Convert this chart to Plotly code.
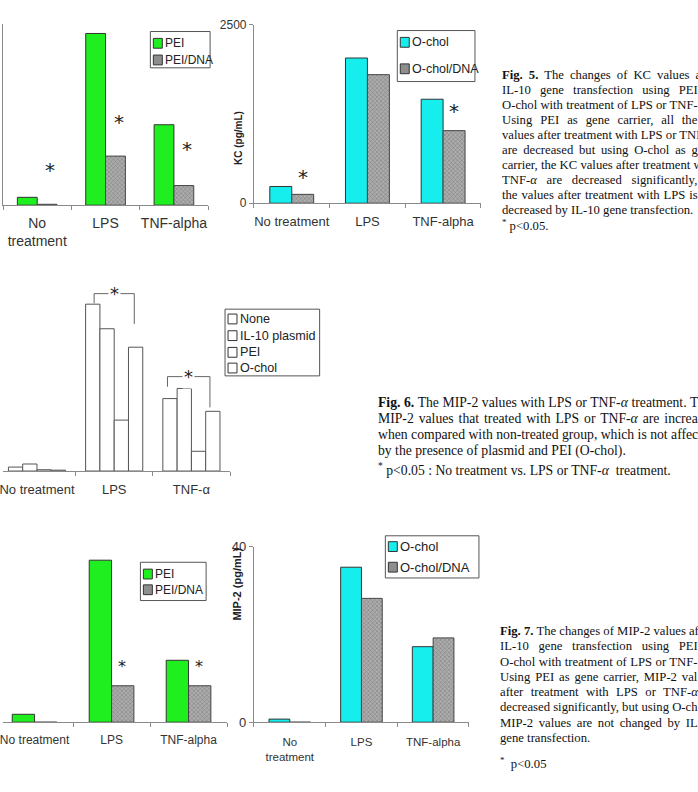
import re
import plotly.graph_objects as go

W, H = 698, 792

# ---------------- data ----------------
cats = ["No treatment", "LPS", "TNF-alpha"]
cats_A = ["No<br>treatment", "LPS", "TNF-alpha"]
cats_E = ["No<br>treatment", "LPS", "TNF-alpha"]
cats_C = ["No treatment", "LPS", "TNF-α"]

# Fig.5 KC (pg/mL)
kc_pei = [108, 2365, 1108]
kc_pei_dna = [12, 676, 270]
kc_ochol = [234, 2033, 1456]
kc_ochol_dna = [124, 1800, 1016]

# Fig.6 MIP-2
mip_none = [0.9, 38.0, 16.5]
mip_il10 = [1.6, 32.4, 18.8]
mip_pei = [0.3, 11.6, 4.5]
mip_ochol = [0.2, 28.2, 13.6]

# Fig.7 MIP-2 (pg/mL)
mip7_pei = [1.8, 36.9, 14.1]
mip7_pei_dna = [0, 8.3, 8.3]
mip7_ochol = [0.7, 35.3, 17.2]
mip7_ochol_dna = [0, 28.2, 19.2]

# significance markers (category, value)
sig_A = [("No<br>treatment", 486), ("LPS", 1149), ("TNF-alpha", 770)]
sig_B = [("No treatment", 371), ("TNF-alpha", 1291)]
sig_D = [("LPS", 12.7), ("TNF-alpha", 12.7)]
# brackets in Fig.6: (left x, right x, top y, left leg y, right leg y)
brackets_C = [(0.74, 1.26, 40.4, 38.2, 33.5), (1.69, 2.24, 21.5, 19.2, 14.5)]

# caption lines as visible on the cropped page: (text, justified)
cap5 = [
    ("<b>Fig.\u00a05.</b> The changes of KC values a", True),
    ("IL-10 gene transfection using PEI", True),
    ("O-chol with treatment of LPS or TNF-", True),
    ("Using PEI as gene carrier, all the", True),
    ("values after treatment with LPS or TNF", True),
    ("are decreased but using O-chol as g", True),
    ("carrier, the KC values after treatment w", True),
    ("TNF-<i>α</i> are decreased significantly,", True),
    ("the values after treatment with LPS is", True),
    ("decreased by IL-10 gene transfection.", False),
    ("<sup>*</sup> p&lt;0.05.", False),
]
cap6 = [
    ("<b>Fig.\u00a06.</b> The MIP-2 values with LPS or TNF-<i>α</i> treatment. T", True),
    ("MIP-2 values that treated with LPS or TNF-<i>α</i> are increa", True),
    ("when compared with non-treated group, which is not affec", True),
    ("by the presence of plasmid and PEI (O-chol).", False),
    ("<sup>*</sup> p&lt;0.05 : No treatment vs. LPS or TNF-<i>α</i>  treatment.", False),
]
cap7 = [
    ("<b>Fig.\u00a07.</b> The changes of MIP-2 values af", True),
    ("IL-10 gene transfection using PEI", True),
    ("O-chol with treatment of LPS or TNF-", True),
    ("Using PEI as gene carrier, MIP-2 val", True),
    ("after treatment with LPS or TNF-<i>α</i>", True),
    ("decreased significantly, but using O-ch", True),
    ("MIP-2 values are not changed by IL", True),
    ("gene transfection.", False),
    ("<sup>*</sup>  p&lt;0.05", False),
]

GREEN = "#1fef1f"
CYAN = "#16eeee"
HATCH = dict(color="#a0a0a0", line=dict(color="#444", width=1),
             pattern=dict(shape="x", fgcolor="#505050", bgcolor="#adadad", size=3, solidity=0.35))


def px(x):
    return x / W


def py(y):
    return 1 - y / H


fig = go.Figure()

BW = 0.29


def add_pair(xa, ya, xcats, v1, v2, color):
    fig.add_trace(go.Bar(x=xcats, y=v1, width=BW, offset=-BW, xaxis=xa, yaxis=ya,
                         marker=dict(color=color, line=dict(color="#333", width=1)), showlegend=False))
    fig.add_trace(go.Bar(x=xcats, y=v2, width=BW, offset=0, xaxis=xa, yaxis=ya,
                         marker=HATCH, showlegend=False))


add_pair("x", "y", cats_A, kc_pei, kc_pei_dna, GREEN)
add_pair("x2", "y2", cats, kc_ochol, kc_ochol_dna, CYAN)
CW = 0.185
for i, v in enumerate([mip_none, mip_il10, mip_pei, mip_ochol]):
    fig.add_trace(go.Bar(x=cats_C, y=v, width=CW, offset=-2 * CW + i * CW, xaxis="x3", yaxis="y3",
                         marker=dict(color="white", line=dict(color="#555", width=1)), showlegend=False))
add_pair("x4", "y4", cats, mip7_pei, mip7_pei_dna, GREEN)
add_pair("x5", "y5", cats_E, mip7_ochol, mip7_ochol_dna, CYAN)


def tf(s):
    return dict(family="Liberation Sans", size=s, color="#333")


AX = dict(showgrid=False, zeroline=False, linecolor="#8a8a8a", linewidth=1,
          tickcolor="#8a8a8a", ticklen=4, tickfont=tf(13), fixedrange=True)
XAX = dict(AX, type="category", ticks="outside", tickson="boundaries", showline=True,
           ticklabelstandoff=6, tickangle=0)

fig.update_layout(
    width=W, height=H, margin=dict(l=0, r=0, t=0, b=0),
    paper_bgcolor="white", plot_bgcolor="white", barmode="overlay", showlegend=False,
    xaxis=dict(XAX, domain=[0, px(206)], range=[-0.5, 2.5], anchor="y", ticklabelstandoff=5, tickfont=tf(14)),
    yaxis=dict(AX, domain=[py(202), py(17)], range=[0, 2500], showline=True, showticklabels=False,
               ticks="", anchor="x"),
    xaxis2=dict(XAX, domain=[px(252), px(480)], range=[-0.5, 2.5], anchor="y2"),
    yaxis2=dict(AX, domain=[py(200), py(18)], range=[0, 2500], showline=True, tickvals=[0, 2500],
                ticks="outside", anchor="x2", tickfont=tf(12)),
    xaxis3=dict(XAX, domain=[0, px(228)], range=[-0.44, 2.5], anchor="y3"),
    yaxis3=dict(AX, domain=[py(473), py(285)], range=[0, 42], showline=False, showticklabels=False,
                ticks="", anchor="x3"),
    xaxis4=dict(XAX, domain=[0, px(225)], range=[-0.41, 2.5], anchor="y4", tickfont=tf(12)),
    yaxis4=dict(AX, domain=[py(729), py(550)], range=[0, 40], showline=False, showticklabels=False,
                ticks="", anchor="x4"),
    xaxis5=dict(XAX, domain=[px(252), px(468)], range=[-0.5, 2.5], anchor="y5", ticklabelstandoff=9,
                tickfont=tf(11.5)),
    yaxis5=dict(AX, domain=[py(729), py(550)], range=[0, 40], showline=True, tickvals=[0, 40],
                ticks="outside", anchor="x5", tickfont=tf(13)),
)

ann = []
shapes = []

# asterisks
for c, v in sig_A:
    ann.append(dict(x=c, y=v, xref="x", yref="y", text="*", showarrow=False, xshift=13,
                    font=dict(family="DejaVu Sans", size=20, color="#222"), yanchor="middle"))
for c, v in sig_B:
    ann.append(dict(x=c, y=v, xref="x2", yref="y2", text="*", showarrow=False, xshift=11,
                    font=dict(family="DejaVu Sans", size=20, color="#222"), yanchor="middle"))
for c, v in sig_D:
    ann.append(dict(x=c, y=v, xref="x4", yref="y4", text="*", showarrow=False, xshift=10,
                    font=dict(family="DejaVu Sans", size=16, color="#222"), yanchor="middle"))
for (l, r, t, yl, yr) in brackets_C:
    shapes.append(dict(type="path", xref="x3", yref="y3",
                       path=f"M {l},{yl} L {l},{t} L {r},{t} L {r},{yr}",
                       line=dict(color="#666", width=1)))
    ann.append(dict(x=(l + r) / 2, y=t, xref="x3", yref="y3", text="*", showarrow=False,
                    font=dict(family="DejaVu Sans", size=18, color="#222"), yanchor="middle", bgcolor="white"))

# y-axis titles
ann.append(dict(x=px(236), y=py(104), xref="paper", yref="paper", text="<b>KC (pg/mL)</b>", textangle=-90,
                showarrow=False, font=dict(family="Liberation Sans", size=10, color="#222")))
ann.append(dict(x=px(235), y=py(627), xref="paper", yref="paper", text="<b>MIP-2 (pg/mL)</b>", textangle=-90,
                showarrow=False, font=dict(family="Liberation Sans", size=11, color="#222")))


# manual legends
def legend(box, items, fs=12):
    x0, y0, x1, y1 = box
    shapes.append(dict(type="rect", xref="paper", yref="paper", x0=px(x0), x1=px(x1), y0=py(y0), y1=py(y1),
                       line=dict(color="#555", width=1), fillcolor="white"))
    for name, fill, yc in items:
        shapes.append(dict(type="rect", xref="paper", yref="paper", x0=px(x0 + 3), x1=px(x0 + 12),
                           y0=py(yc + 5), y1=py(yc - 5), line=dict(color="#333", width=1), fillcolor=fill))
        ann.append(dict(x=px(x0 + 14), y=py(yc), xref="paper", yref="paper", text=name, showarrow=False,
                        xanchor="left", yanchor="middle", align="left", borderpad=0,
                        font=dict(family="Liberation Sans", size=fs, color="#222")))


legend((148, 25, 208, 62), [("PEI", GREEN, 37), ("PEI/DNA", "#8e8e8e", 54)])
legend((396, 24, 474, 76), [("O-chol", CYAN, 36), ("O-chol/DNA", "#8e8e8e", 63)], fs=12.5)
legend((223, 308, 318, 376), [("None", "white", 318), ("IL-10 plasmid", "white", 335),
                              ("PEI", "white", 352), ("O-chol", "white", 368)], fs=12.6)
legend((138, 566, 204, 605), [("PEI", GREEN, 578), ("PEI/DNA", "#8e8e8e", 594)])
legend((384, 539, 478, 582), [("O-chol", CYAN, 550), ("O-chol/DNA", "#8e8e8e", 571)], fs=13)

# Times (Liberation Serif) advance widths, per 1000 em, for justification
TW = {" ": 250, "\u00a0": 250, "(": 333, ")": 333, "*": 500, ",": 250, "-": 333, ".": 250, "/": 278,
      ":": 278, "<": 564, "α": 500}
TW.update({d: 500 for d in "0123456789"})
TW.update(dict(zip("ABCDEFGHIJKLMNOPQRSTUVWXYZ",
                   [722, 667, 667, 722, 611, 556, 722, 722, 333, 389, 722, 611, 889, 722, 722, 556,
                    722, 667, 556, 611, 722, 722, 944, 722, 722, 611])))
TW.update(dict(zip("abcdefghijklmnopqrstuvwxyz",
                   [444, 500, 444, 500, 444, 333, 500, 500, 278, 278, 500, 278, 778, 500, 500, 500,
                    500, 333, 389, 278, 500, 500, 722, 500, 500, 444])))


def plain(t):
    return re.sub(r"<[^>]+>", "", t).replace("&lt;", "<")


def caption(x, y0, dy, lines, size, right=697, last_y=None):
    font = dict(family="Liberation Serif", size=size, color="#111")
    for i, (txt, just) in enumerate(lines):
        yy = y0 + i * dy
        if last_y is not None and i == len(lines) - 1:
            yy = last_y
        text = txt
        if just:
            p = plain(txt)
            nat = sum(TW.get(ch, 500) for ch in p) * size / 1000.0
            gaps = p.count(" ")
            ws = max(0.0, (right - (x + 1) - nat) / gaps)
            text = f'<span style="word-spacing:{ws:.2f}px">{txt}</span>'
        else:
            text = txt.replace("  ", " \u00a0")
        ann.append(dict(x=px(x), y=py(yy), xref="paper", yref="paper", text=text, showarrow=False,
                        xanchor="left", yanchor="middle", align="left", borderpad=0, font=font))


caption(500, 69, 15.3, cap5, 12.7)
caption(376, 403, 16.6, cap6, 13.7, last_y=471)
caption(498, 636, 15.6, cap7, 12.7, last_y=771)

fig.update_layout(annotations=ann, shapes=shapes)
fig.write_html("out.html")
